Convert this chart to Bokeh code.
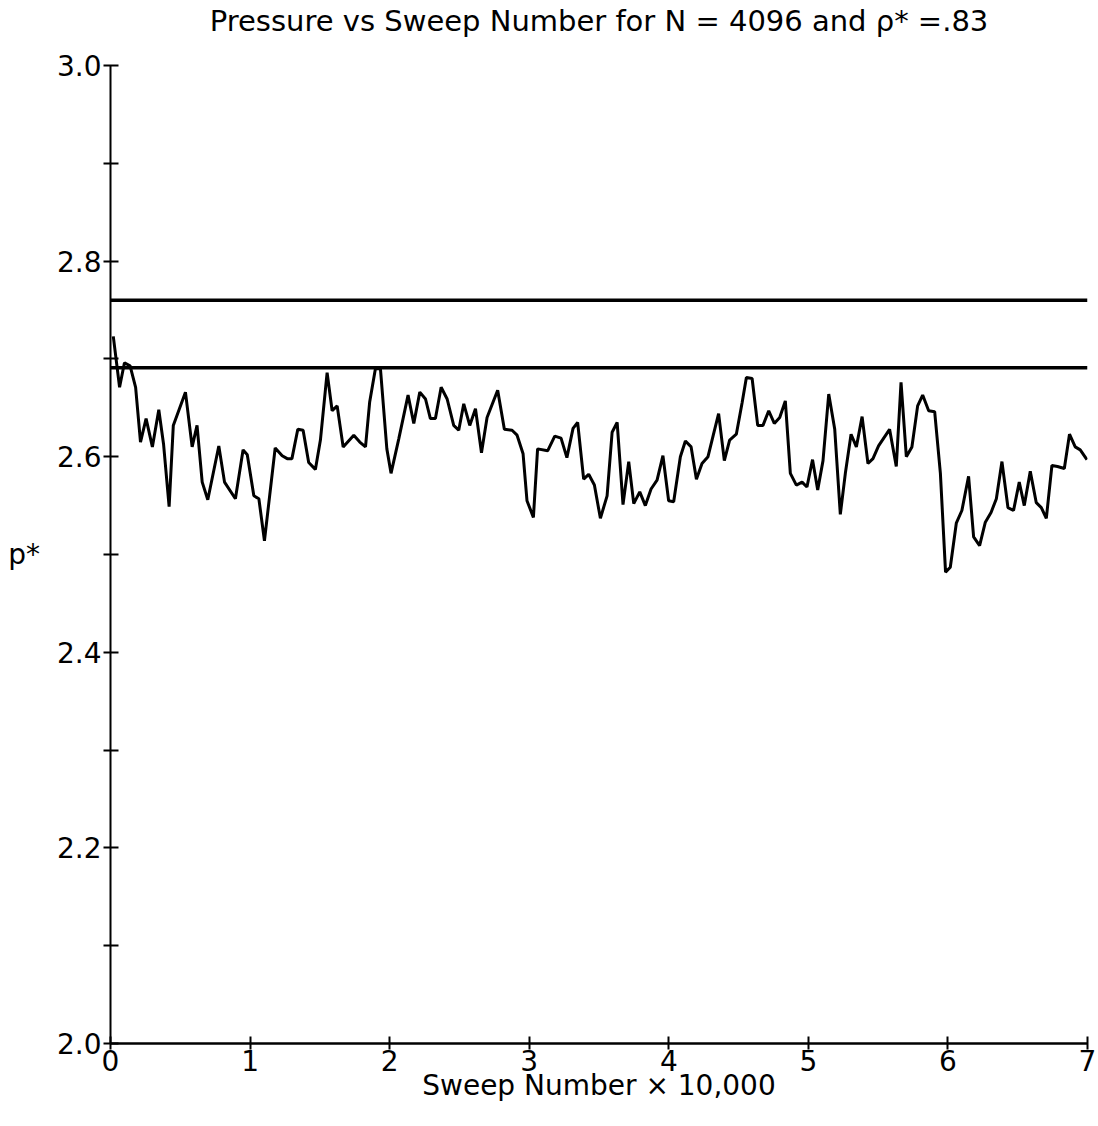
from bokeh.plotting import figure
from bokeh.models import Range1d, FixedTicker, NumeralTickFormatter, Title
from bokeh.embed import file_html
from bokeh.resources import INLINE

# sweep number (x 10,000) and reduced pressure p*
sweep = [0.02, 0.065, 0.10, 0.14, 0.18, 0.215, 0.255, 0.30, 0.346, 0.38, 0.42, 0.45, 0.537, 0.585, 0.62,
         0.657, 0.697, 0.776, 0.817, 0.895, 0.95, 0.98, 1.027, 1.063, 1.103, 1.18, 1.23, 1.266, 1.30, 1.342,
         1.38, 1.42, 1.468, 1.504, 1.552, 1.588, 1.624, 1.667, 1.743, 1.786, 1.827, 1.857, 1.898, 1.934, 1.98,
         2.01, 2.065, 2.132, 2.173, 2.216, 2.257, 2.292, 2.328, 2.369, 2.412, 2.459, 2.495, 2.531, 2.574, 2.615,
         2.658, 2.698, 2.774, 2.822, 2.877, 2.913, 2.956, 2.984, 3.03, 3.06, 3.132, 3.183, 3.228, 3.27, 3.314,
         3.347, 3.39, 3.426, 3.467, 3.51, 3.558, 3.594, 3.63, 3.672, 3.713, 3.749, 3.792, 3.832, 3.873, 3.916,
         3.958, 3.999, 4.035, 4.083, 4.119, 4.16, 4.198, 4.238, 4.281, 4.317, 4.357, 4.398, 4.436, 4.484, 4.525,
         4.556, 4.597, 4.637, 4.675, 4.716, 4.756, 4.795, 4.835, 4.871, 4.914, 4.955, 4.99, 5.03, 5.067, 5.105,
         5.146, 5.189, 5.229, 5.265, 5.306, 5.344, 5.385, 5.427, 5.463, 5.503, 5.582, 5.63, 5.664, 5.702, 5.742,
         5.783, 5.819, 5.862, 5.905, 5.946, 5.983, 6.017, 6.06, 6.10, 6.148, 6.184, 6.227, 6.268, 6.309, 6.347,
         6.387, 6.43, 6.47, 6.511, 6.547, 6.59, 6.633, 6.669, 6.705, 6.745, 6.785, 6.834, 6.871, 6.912, 6.948,
         6.996]
pressure = [2.723, 2.671, 2.696, 2.693, 2.671, 2.615, 2.639, 2.610, 2.648, 2.613, 2.549, 2.632, 2.666, 2.610, 2.632,
            2.574, 2.556, 2.611, 2.574, 2.557, 2.607, 2.602, 2.560, 2.557, 2.514, 2.609, 2.601, 2.598, 2.598, 2.628,
            2.627, 2.594, 2.587, 2.617, 2.686, 2.647, 2.652, 2.610, 2.622, 2.615, 2.610, 2.656, 2.690, 2.690, 2.608,
            2.583, 2.618, 2.663, 2.634, 2.666, 2.659, 2.639, 2.639, 2.671, 2.659, 2.632, 2.627, 2.654, 2.632, 2.649,
            2.604, 2.640, 2.668, 2.628, 2.627, 2.622, 2.603, 2.555, 2.538, 2.608, 2.606, 2.621, 2.619, 2.599, 2.629,
            2.635, 2.577, 2.582, 2.571, 2.537, 2.560, 2.625, 2.635, 2.551, 2.595, 2.552, 2.564, 2.550, 2.567, 2.576,
            2.601, 2.555, 2.554, 2.600, 2.616, 2.610, 2.577, 2.593, 2.600, 2.621, 2.644, 2.596, 2.617, 2.623, 2.655,
            2.681, 2.680, 2.632, 2.632, 2.647, 2.634, 2.640, 2.657, 2.583, 2.571, 2.574, 2.569, 2.597, 2.566, 2.596,
            2.664, 2.628, 2.541, 2.583, 2.623, 2.610, 2.641, 2.593, 2.598, 2.611, 2.628, 2.590, 2.676, 2.600, 2.610,
            2.652, 2.663, 2.647, 2.646, 2.583, 2.482, 2.487, 2.532, 2.545, 2.580, 2.518, 2.509, 2.533, 2.543, 2.557,
            2.595, 2.548, 2.545, 2.574, 2.550, 2.585, 2.553, 2.548, 2.537, 2.591, 2.590, 2.588, 2.623, 2.610, 2.607,
            2.597]

# horizontal reference levels
ref_levels = [2.760, 2.691]
ref_x = [0, 7]

x_ticks = [0, 1, 2, 3, 4, 5, 6, 7]
y_major = [2.0, 2.2, 2.4, 2.6, 2.8, 3.0]
y_minor = [2.1, 2.3, 2.5, 2.7, 2.9]

TITLE = "Pressure vs Sweep Number for N = 4096 and \u03c1* =.83"
FONT = "DejaVu Sans"

p = figure(width=1098, height=1126, output_backend="svg", toolbar_location=None,
           x_range=Range1d(0, 7), y_range=Range1d(2.0, 3.0),
           min_border_left=110, min_border_right=11, min_border_top=65, min_border_bottom=83,
           title=None)

# spacer panel between the frame and the title, then the title itself
p.add_layout(Title(text=" ", text_font=FONT, text_font_size="12px", standoff=12), "above")
p.add_layout(Title(text=TITLE, text_font=FONT, text_font_size="29px", text_font_style="normal",
                   text_color="black", align="center", standoff=0), "above")

p.outline_line_color = None
p.xgrid.visible = False
p.ygrid.visible = False
p.background_fill_color = "white"
p.border_fill_color = "white"

for lvl in ref_levels:
    p.line(ref_x, [lvl, lvl], line_color="black", line_width=3.5)

p.line(sweep, pressure, line_color="black", line_width=3)

# x axis
p.xaxis.ticker = FixedTicker(ticks=x_ticks)
p.xaxis.axis_label = "Sweep Number \u00d7 10,000"
p.xaxis.axis_label_text_font = FONT
p.xaxis.axis_label_text_font_style = "normal"
p.xaxis.axis_label_text_font_size = "28px"
p.xaxis.axis_label_text_color = "black"
p.xaxis.axis_label_standoff = -5
p.xaxis.major_label_text_font = FONT
p.xaxis.major_label_text_font_size = "28px"
p.xaxis.major_label_text_color = "black"
p.xaxis.major_label_standoff = 0
p.xaxis.major_tick_in = 7
p.xaxis.major_tick_out = 6
p.xaxis.minor_tick_in = 0
p.xaxis.minor_tick_out = 0
p.xaxis.axis_line_width = 2.5
p.xaxis.major_tick_line_width = 2

# y axis
p.yaxis.ticker = FixedTicker(ticks=y_major, minor_ticks=y_minor)
p.yaxis.formatter = NumeralTickFormatter(format="0.0")
p.yaxis.axis_label = "p*"
p.yaxis.axis_label_orientation = "horizontal"
p.yaxis.axis_label_text_font = FONT
p.yaxis.axis_label_text_font_style = "normal"
p.yaxis.axis_label_text_font_size = "28px"
p.yaxis.axis_label_text_color = "black"
p.yaxis.axis_label_standoff = 14
p.yaxis.major_label_text_font = FONT
p.yaxis.major_label_text_font_size = "28px"
p.yaxis.major_label_text_color = "black"
p.yaxis.major_label_standoff = 2
p.yaxis.major_tick_in = 8
p.yaxis.major_tick_out = 7
p.yaxis.minor_tick_in = 8
p.yaxis.minor_tick_out = 7
p.yaxis.axis_line_width = 2
p.yaxis.major_tick_line_width = 2
p.yaxis.minor_tick_line_width = 2
p.yaxis.minor_tick_line_color = "black"

open("out.html", "w").write(file_html(p, INLINE))
